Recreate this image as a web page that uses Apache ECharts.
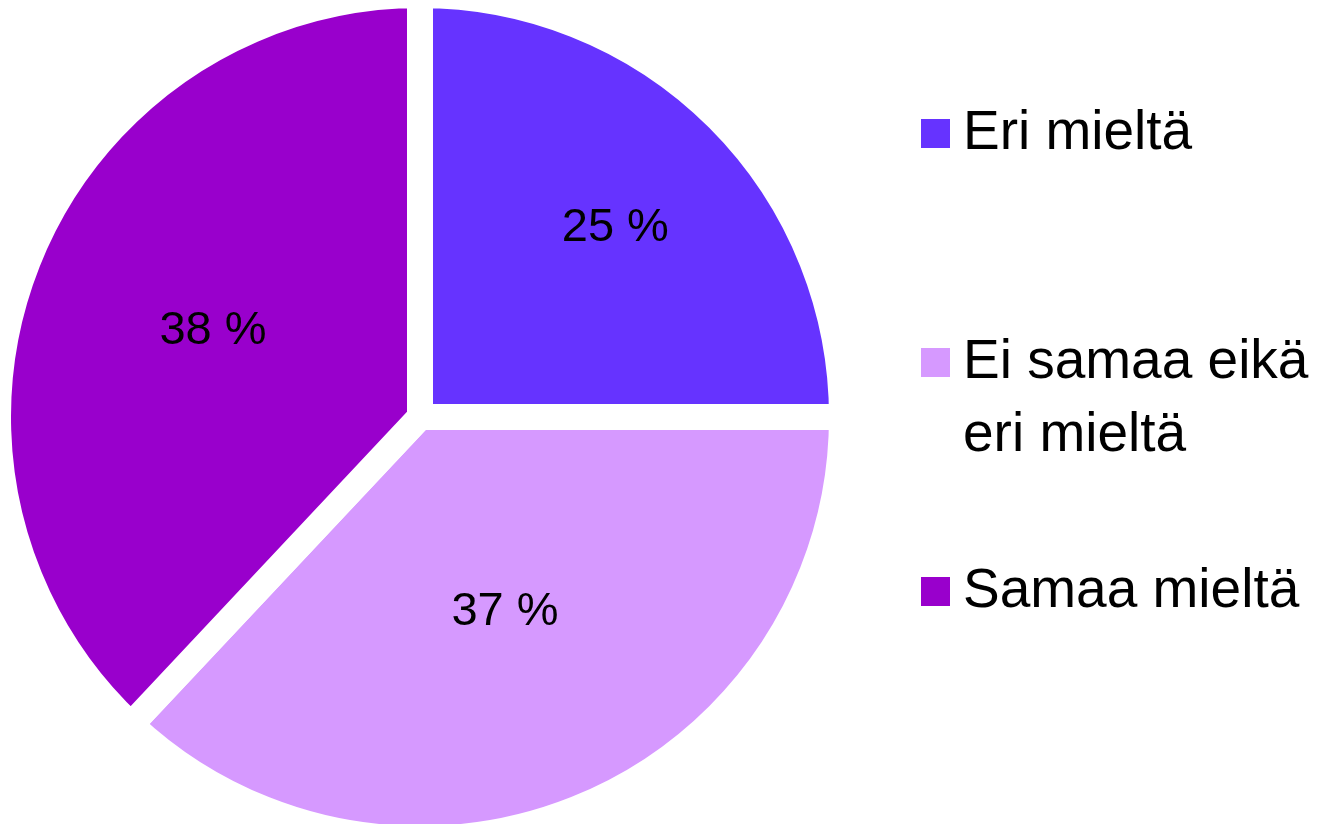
<!DOCTYPE html>
<html>
<head>
<meta charset="utf-8">
<script src="https://cdn.jsdelivr.net/npm/echarts@6/dist/echarts.min.js"></script>
<style>
html,body{margin:0;padding:0;background:#fff;}
#chart{width:1331px;height:824px;}
</style>
</head>
<body>
<div id="chart"></div>
<script>
const categories = ['Eri mieltä', 'Ei samaa eikä eri mieltä', 'Samaa mieltä'];
const values = [25, 37, 38];
const colors = ['#6633FF', '#D699FF', '#9900CC'];
// legend text as wrapped in the reference; a leading empty line keeps the
// marker level with the first line of the two-line entry
const legendLabels = ['Eri mieltä', '\nEi samaa eikä\neri mieltä', 'Samaa mieltä'];

const FONT = '"Liberation Sans", Arial, sans-serif';
const chart = echarts.init(document.getElementById('chart'), null, {renderer: 'canvas'});

const labelShift = [[44, -38], [0, -1], [-8, -7]];

chart.setOption({
  animation: false,
  backgroundColor: '#ffffff',
  legend: {
    orient: 'vertical',
    left: 921,
    top: 97,
    padding: 0,
    itemWidth: 29,
    itemHeight: 29,
    itemGap: 83,
    icon: 'rect',
    selectedMode: false,
    itemStyle: {borderWidth: 0},
    formatter: function (name) {
      return legendLabels[categories.indexOf(name)];
    },
    textStyle: {
      fontFamily: FONT,
      fontSize: 55,
      lineHeight: 73,
      color: '#000',
      padding: [0, 0, 0, 8]
    },
    data: categories
  },
  series: [{
    type: 'pie',
    center: [420, 417],
    radius: [0, 422],
    startAngle: 90,
    clockwise: true,
    avoidLabelOverlap: false,
    silent: true,
    emphasis: {disabled: true},
    itemStyle: {
      borderColor: '#ffffff',
      borderWidth: 26
    },
    label: {
      show: true,
      position: 'inside',
      formatter: '{c} %',
      fontFamily: FONT,
      fontSize: 47,
      color: '#000'
    },
    labelLine: {show: false},
    labelLayout: function (params) {
      const s = labelShift[params.dataIndex];
      return {dx: s[0], dy: s[1]};
    },
    data: categories.map(function (c, i) {
      return {name: c, value: values[i], itemStyle: {color: colors[i]}};
    })
  }]
});
</script>
</body>
</html>
